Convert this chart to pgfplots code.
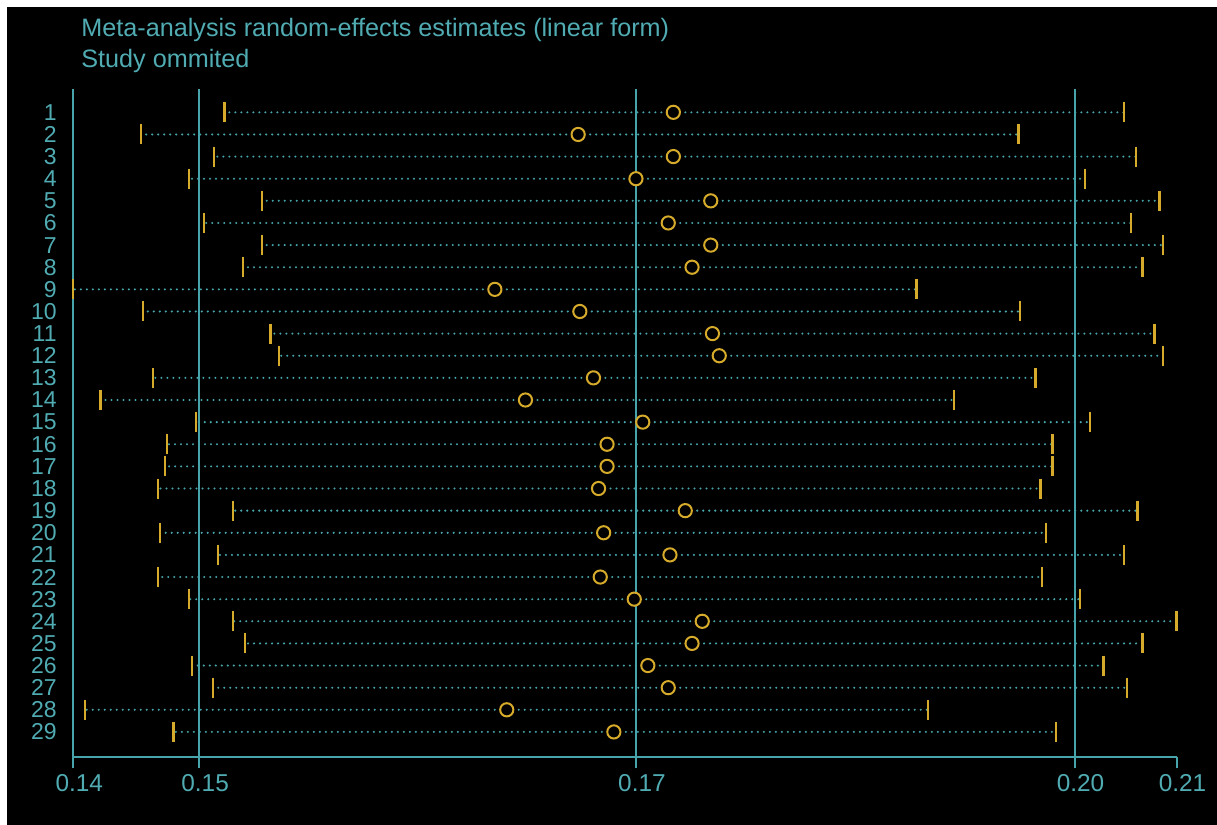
\documentclass[border=0pt]{standalone}
\usepackage{fontspec}
\setmainfont{Liberation Sans}
\usepackage{pgfplots}
\pgfplotsset{compat=1.18}
\usepackage{pgfplotstable}
\definecolor{tealc}{RGB}{70,164,170}
\definecolor{txtc}{RGB}{80,172,178}
\definecolor{goldc}{RGB}{214,170,42}

\pgfplotstableread{
row lo est hi
1 0.1493 0.1757 0.2022
2 0.1444 0.1701 0.1960
3 0.1487 0.1757 0.2029
4 0.1472 0.1735 0.1999
5 0.1515 0.1779 0.2043
6 0.1481 0.1754 0.2026
7 0.1515 0.1779 0.2045
8 0.1504 0.1768 0.2033
9 0.1404 0.1652 0.1900
10 0.1445 0.1702 0.1961
11 0.1520 0.1780 0.2040
12 0.1525 0.1784 0.2045
13 0.1451 0.1710 0.1970
14 0.1420 0.1670 0.1922
15 0.1476 0.1739 0.2002
16 0.1459 0.1718 0.1980
17 0.1458 0.1718 0.1980
18 0.1454 0.1713 0.1973
19 0.1498 0.1764 0.2030
20 0.1455 0.1716 0.1976
21 0.1489 0.1755 0.2022
22 0.1454 0.1714 0.1974
23 0.1472 0.1734 0.1996
24 0.1498 0.1774 0.2053
25 0.1505 0.1768 0.2033
26 0.1474 0.1742 0.2010
27 0.1486 0.1754 0.2024
28 0.1411 0.1659 0.1907
29 0.1463 0.1722 0.1982
}\data

\begin{document}
\begin{tikzpicture}
\fill[white] (0pt,0pt) rectangle (608.5pt,-412.5pt);
\fill[black] (3.5pt,-3.5pt) rectangle (608.5pt,-412.5pt);
\node[anchor=base west, text=txtc, inner sep=0pt, font=\fontsize{12.6}{15}\selectfont] at (40.5pt,-18pt) {Meta-analysis random-effects estimates (linear form)};
\node[anchor=base west, text=txtc, inner sep=0pt, font=\fontsize{12.6}{15}\selectfont] at (40.5pt,-33.5pt) {Study ommited};
\begin{axis}[
  at={(36.65pt,-378.35pt)}, anchor=south west,
  scale only axis, width=551.6pt, height=333.7pt,
  xmin=0.1404, xmax=0.2053, ymin=-0.04, ymax=30.12, y dir=reverse,
  clip=false,
  axis x line*=bottom, axis y line*=left,
  x axis line style={tealc, line width=1pt, -},
  y axis line style={draw=none},
  tick align=outside,
  major tick length=5.85pt,
  xtick={0.1404,0.1478,0.1735,0.1993,0.2053},
  xticklabels={0.14,0.15,0.17,0.20,0.21},
  xtick style={tealc, line width=1pt},
  ytick={1,...,29},
  ytick style={draw=none},
  /pgf/number format/assume math mode=true,
  xticklabel style={text=txtc, inner sep=0pt, anchor=north, yshift=-3pt, xshift=3pt, font=\fontsize{12.2}{14}\selectfont},
  yticklabel style={text=txtc, inner sep=0pt, anchor=east, xshift=-2.3pt, font=\fontsize{11.5}{13}\selectfont},
]
% reference lines
\addplot[tealc, line width=1pt] coordinates {(0.1404,-0.04) (0.1404,30.12)};
\addplot[tealc, line width=1pt] coordinates {(0.1478,-0.04) (0.1478,30.12)};
\addplot[tealc, line width=1pt] coordinates {(0.1735,-0.04) (0.1735,30.12)};
\addplot[tealc, line width=1pt] coordinates {(0.1993,-0.04) (0.1993,30.12)};
% dotted CI lines
\addplot[draw=none, mark=none,
  error bars/.cd, x dir=both, x explicit, error mark=none,
  error bar style={tealc, line width=1.15pt, line cap=round, dash pattern=on 0pt off 3pt}]
  table[x=est, y=row, x error plus expr=\thisrow{hi}-\thisrow{est}, x error minus expr=\thisrow{est}-\thisrow{lo}] {\data};
% CI end bars
\addplot[only marks, mark=|, mark size=5pt, mark options={goldc, line width=1.1pt}] table[x=lo, y=row] {\data};
\addplot[only marks, mark=|, mark size=5pt, mark options={goldc, line width=1.1pt}] table[x=hi, y=row] {\data};
% estimates
\addplot[only marks, mark=*, mark size=3.3pt, mark options={draw=goldc, fill=black, line width=1pt}] table[x=est, y=row] {\data};
\end{axis}
\end{tikzpicture}
\end{document}
